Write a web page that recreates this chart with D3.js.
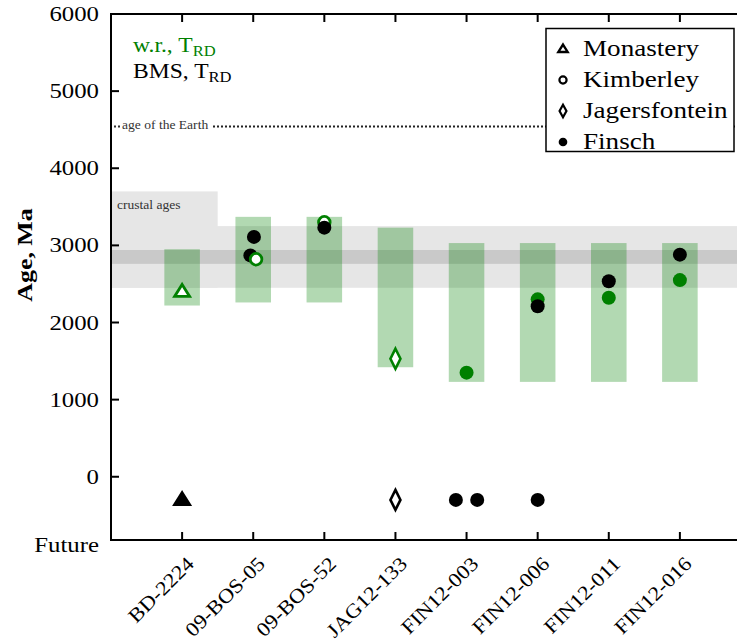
<!DOCTYPE html>
<html><head><meta charset="utf-8">
<script src="https://cdn.jsdelivr.net/npm/d3@7"></script>
<style>body{margin:0;background:#fff}svg{display:block}</style>
</head><body>
<script>
// ---- data ----
const categories = ["BD-2224","09-BOS-05","09-BOS-52","JAG12-133","FIN12-003","FIN12-006","FIN12-011","FIN12-016"];
const barTop    = [2950, 3370, 3370, 3230, 3030, 3030, 3030, 3030];
const barBottom = [2220, 2260, 2260, 1420, 1230, 1230, 1230, 1230];
const yTickValues = [0, 1000, 2000, 3000, 4000, 5000, 6000];
const futureTickLabel = "Future";
const futureAge = -300;
const earthAge = 4540;
const crustalBox = [3700, 2450];      // "crustal ages" inset top / bottom
const crustalBand = [3250, 2450];     // light grey band
const darkBand = [2940, 2760];        // darker grey band

// whole-rock T_RD (green)
const wrSample = ["BD-2224","09-BOS-05","09-BOS-52","JAG12-133","FIN12-003","FIN12-006","FIN12-011","FIN12-016"];
const wrAge    = [2400, 2820, 3300, 1530, 1350, 2300, 2320, 2550];
const wrShift  = [0, 0.04, 0, 0, 0, 0, 0, 0];
const wrMine   = ["Monastery","Kimberley","Kimberley","Jagersfontein","Finsch","Finsch","Finsch","Finsch"];

// BMS T_RD (black)
const bmsSample = ["09-BOS-05","09-BOS-05","09-BOS-52","FIN12-006","FIN12-011","FIN12-016"];
const bmsAge    = [3110, 2870, 3230, 2210, 2535, 2880];
const bmsShift  = [0.01, -0.04, 0, 0, 0, 0];

// BMS giving future ages
const futSample = ["BD-2224","JAG12-133","FIN12-003","FIN12-003","FIN12-006"];
const futShift  = [0, 0, -0.15, 0.15, 0];
const futMine   = ["Monastery","Jagersfontein","Finsch","Finsch","Finsch"];

const legendMines = ["Monastery","Kimberley","Jagersfontein","Finsch"];

// ---- drawing ----
const W = 737, H = 644;
const GREEN = "#008000";
const SERIF = "'Liberation Serif','Times New Roman',serif";
const SX = 1.18;

const svg = d3.select("body").append("svg").attr("width", W).attr("height", H);

const x = d3.scaleLinear().domain([0, 9]).range([111, 751]);
const y = d3.scaleLinear().domain([-820, 6000]).range([540, 14]);
const xc = s => x(categories.indexOf(s) + 1);

function txt(g, str, px, py, size, anchor, opts = {}) {
  const t = g.append("text")
    .attr("transform", `translate(${px},${py})${opts.rotate ? ` rotate(${opts.rotate})` : ""} scale(${opts.sx || SX},1)`)
    .attr("text-anchor", anchor)
    .attr("font-family", SERIF)
    .attr("font-size", size)
    .attr("fill", opts.fill || "#000")
    .attr("font-weight", opts.bold ? "bold" : null)
    .text(str);
  return t;
}

// grey bands
const x0 = x(0), xEnd = x(9);
svg.append("rect").attr("x", x0).attr("width", x(1.5) - x0)
  .attr("y", y(crustalBox[0])).attr("height", y(crustalBox[1]) - y(crustalBox[0])).attr("fill", "#e6e6e6");
svg.append("rect").attr("x", x0).attr("width", xEnd - x0)
  .attr("y", y(crustalBand[0])).attr("height", y(crustalBand[1]) - y(crustalBand[0])).attr("fill", "#e6e6e6");
svg.append("rect").attr("x", x0).attr("width", xEnd - x0)
  .attr("y", y(darkBand[0])).attr("height", y(darkBand[1]) - y(darkBand[0])).attr("fill", "#c9c9c9");
txt(svg, "crustal ages", x0 + 6, y(crustalBox[0]) + 18, 11.5, "start", {fill: "#333"});

// green bars
const bw = 0.25;
svg.append("g").selectAll("rect").data(categories).join("rect")
  .attr("x", (d) => xc(d) - (x(1 + bw) - x(1)))
  .attr("width", 2 * (x(1 + bw) - x(1)))
  .attr("y", (d, i) => y(barTop[i]))
  .attr("height", (d, i) => y(barBottom[i]) - y(barTop[i]))
  .attr("fill", GREEN).attr("fill-opacity", 0.3);

// age of the Earth
const ey = y(earthAge);
svg.append("line").attr("x1", x0 + 3).attr("x2", x0 + 9).attr("y1", ey).attr("y2", ey)
  .attr("stroke", "#333").attr("stroke-width", 2).attr("stroke-dasharray", "2,2");
txt(svg, "age of the Earth", x0 + 11, ey + 2.5, 11.5, "start", {fill: "#333"});
svg.append("line").attr("x1", 213).attr("x2", xEnd).attr("y1", ey).attr("y2", ey)
  .attr("stroke", "#222").attr("stroke-width", 2).attr("stroke-dasharray", "2,2");

// annotations
const a1 = txt(svg, "w.r., T", 133, 52, 20, "start", {fill: GREEN});
a1.append("tspan").attr("dy", 4).attr("font-size", 14).text("RD");
const a2 = txt(svg, "BMS, T", 133, 78, 20, "start");
a2.append("tspan").attr("dy", 4).attr("font-size", 14).text("RD");

// marker helpers
function triPath(w, h) { return `M0,${-h * 0.6}L${w / 2},${h * 0.4}L${-w / 2},${h * 0.4}Z`; }
function diaPath(w, h) { return `M0,${-h / 2}L${w / 2},0L0,${h / 2}L${-w / 2},0Z`; }
function marker(g, mine, cx, cy, color, filled, big) {
  const k = big ? 1 : 0.62;
  if (mine === "Monastery") {
    g.append("path").attr("d", triPath(15 * k, 12 * k)).attr("transform", `translate(${cx},${cy})`)
      .attr("fill", filled ? color : "#fff").attr("stroke", color).attr("stroke-width", big ? 2.8 : 2.4)
      .attr("stroke-linejoin", "miter");
  } else if (mine === "Kimberley") {
    g.append("circle").attr("cx", cx).attr("cy", cy).attr("r", (filled ? 7 : 5.8) * k)
      .attr("fill", filled ? color : "#fff").attr("stroke", color).attr("stroke-width", filled ? 0 : (big ? 2.8 : 2.2));
  } else if (mine === "Jagersfontein") {
    g.append("path").attr("d", diaPath(10 * k / (big ? 1 : 0.9), 20 * k)).attr("transform", `translate(${cx},${cy})`)
      .attr("fill", filled ? color : "#fff").attr("stroke", color).attr("stroke-width", big ? 2.6 : 2.2);
  } else {
    g.append("circle").attr("cx", cx).attr("cy", cy).attr("r", 7 * k).attr("fill", color);
  }
}

const pts = svg.append("g");
wrSample.forEach((s, i) => {
  const filled = wrMine[i] === "Finsch";
  const cx = x(categories.indexOf(s) + 1 + wrShift[i]);
  if (s !== "09-BOS-05") marker(pts, wrMine[i], cx, y(wrAge[i]), GREEN, filled, true);
});
bmsSample.forEach((s, i) => {
  const cx = x(categories.indexOf(s) + 1 + bmsShift[i]);
  pts.append("circle").attr("cx", cx).attr("cy", y(bmsAge[i])).attr("r", 7).attr("fill", "#000");
});
wrSample.forEach((s, i) => {
  const cx = x(categories.indexOf(s) + 1 + wrShift[i]);
  if (s === "09-BOS-05") marker(pts, wrMine[i], cx, y(wrAge[i]), GREEN, false, true);
});
futSample.forEach((s, i) => {
  const cx = x(categories.indexOf(s) + 1 + futShift[i]);
  const m = futMine[i];
  marker(pts, m, cx, y(futureAge), "#000", m !== "Jagersfontein", true);
});

// axes
const ax = svg.append("g").attr("stroke", "#000").attr("stroke-width", 2);
ax.append("line").attr("x1", x0).attr("x2", x0).attr("y1", y.range()[1] - 1).attr("y2", y.range()[0] + 1);
ax.append("line").attr("x1", x0 - 1).attr("x2", xEnd).attr("y1", y.range()[0]).attr("y2", y.range()[0]);
ax.append("line").attr("x1", x0 - 1).attr("x2", xEnd).attr("y1", y.range()[1]).attr("y2", y.range()[1]);
yTickValues.forEach(v => {
  ax.append("line").attr("x1", x0).attr("x2", x0 + 8).attr("y1", y(v)).attr("y2", y(v));
  txt(svg, d3.format("d")(v), x0 - 12, y(v) + 7, 21, "end");
});
txt(svg, futureTickLabel, x0 - 12, y.range()[0] + 12, 21, "end");
categories.forEach((c, i) => {
  const cx = x(i + 1);
  ax.append("line").attr("x1", cx).attr("x2", cx).attr("y1", y.range()[0]).attr("y2", y.range()[0] - 8);
  ax.append("line").attr("x1", cx).attr("x2", cx).attr("y1", y.range()[1]).attr("y2", y.range()[1] + 8);
  txt(svg, c, cx + 13, y.range()[0] + 25, 20, "end", {rotate: -45, sx: 1.12});
});
txt(svg, "Age, Ma", 32, 255, 22, "middle", {rotate: -90, bold: true});

// legend
const lg = svg.append("g");
lg.append("rect").attr("x", 546).attr("y", 28.5).attr("width", 188).attr("height", 123)
  .attr("fill", "#fff").attr("stroke", "#000").attr("stroke-width", 1.5);
legendMines.forEach((m, i) => {
  const cy = 49 + i * 31;
  marker(lg, m, 563, cy, "#000", m === "Finsch", false);
  txt(lg, m, 583, cy + 7, 23, "start");
});
</script>
</body></html>
